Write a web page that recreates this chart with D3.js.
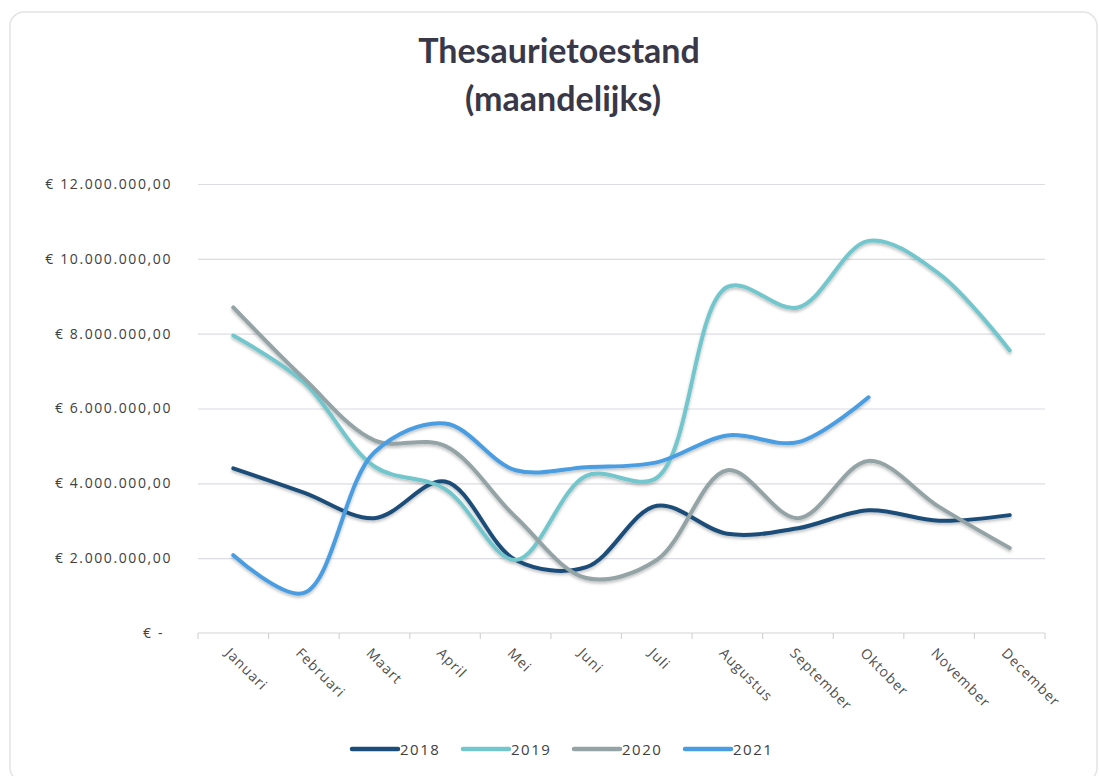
<!DOCTYPE html>
<html>
<head>
<meta charset="utf-8">
<script src="https://cdn.jsdelivr.net/npm/d3@7"></script>
<style>
  body { margin: 0; background: #fff; font-family: "Open Sans", sans-serif; }
</style>
</head>
<body>
<div id="chart"></div>
<script>
const width = 1099;
const height = 776;
const margin = { top: 184, right: 54, bottom: 143, left: 198 };

// data
const months = ['Januari', 'Februari', 'Maart', 'April', 'Mei', 'Juni', 'Juli',
  'Augustus', 'September', 'Oktober', 'November', 'December'];
const years = ['2018', '2019', '2020', '2021'];
const v2018 = [4.4, 3.75, 3.07, 4.05, 1.95, 1.76, 3.4, 2.65, 2.8, 3.28, 3.0, 3.15];
const v2019 = [7.95, 6.7, 4.45, 3.85, 1.95, 4.2, 4.15, 9.25, 8.7, 10.48, 9.6, 7.55];
const v2020 = [8.7, 6.8, 5.15, 5.0, 3.1, 1.47, 1.95, 4.35, 3.07, 4.6, 3.37, 2.27];
const v2021 = [2.08, 1.07, 4.83, 5.6, 4.35, 4.43, 4.56, 5.28, 5.1, 6.3];
const yTicks = [0, 2, 4, 6, 8, 10, 12];
const colors = ['#1c4d78', '#72c6cc', '#94a3a5', '#4a9de0'];

const seriesList = [v2018, v2019, v2020, v2021].map((vals, i) => ({
  key: years[i],
  values: vals.map((v, j) => ({ month: months[j], value: v * 1e6 }))
}));

const svg = d3.select('#chart')
  .append('svg')
  .attr('width', width)
  .attr('height', height);

const defs = svg.append('defs');
const shadow = defs.append('filter').attr('id', 'shadow')
  .attr('x', '-5%').attr('y', '-5%').attr('width', '110%').attr('height', '115%');
shadow.append('feDropShadow')
  .attr('dx', 0).attr('dy', 2).attr('stdDeviation', 1.5)
  .attr('flood-color', '#000').attr('flood-opacity', 0.25);

// card
svg.append('rect')
  .attr('x', 10).attr('y', 12)
  .attr('width', width - 12).attr('height', height - 6)
  .attr('rx', 14)
  .style('fill', '#fff')
  .style('stroke', '#e4e4e4')
  .style('stroke-width', 1.5);

// title
const title = svg.append('text')
  .attr('text-anchor', 'middle')
  .style('font-family', 'Lato, "Open Sans", sans-serif')
  .style('font-weight', 'bold')
  .style('font-size', '34px')
  .style('fill', '#383848');
title.append('tspan').attr('x', 559).attr('y', 63).text('Thesaurietoestand');
title.append('tspan').attr('x', 563).attr('y', 111).text('(maandelijks)');

const xScale = d3.scaleBand()
  .domain(months)
  .range([margin.left, width - margin.right]);

const yScale = d3.scaleLinear()
  .domain([0, 12e6])
  .range([height - margin.bottom, margin.top]);

// grid + y labels
const fmt = d3.formatLocale({ decimal: ',', thousands: '.', grouping: [3], currency: ['€ ', ''] });
const yAxis = d3.axisLeft(yScale)
  .tickValues(yTicks.map(d => d * 1e6))
  .tickSize(-(width - margin.left - margin.right))
  .tickPadding(26)
  .tickFormat(d => d === 0 ? '€ -' : fmt.format('$,.2f')(d));

const yAxisGroup = svg.append('g')
  .attr('transform', `translate(${margin.left}, 0)`)
  .call(yAxis);
yAxisGroup.select('.domain').remove();
yAxisGroup.selectAll('.tick line')
  .style('stroke', '#dcdce4')
  .style('stroke-width', '1.2px');
yAxisGroup.selectAll('.tick text')
  .style('font-family', '"Open Sans", sans-serif')
  .style('font-size', '14px')
  .style('letter-spacing', '1.6px')
  .style('fill', '#404040')
  .attr('dx', d => d === 0 ? -8 : 0);
yAxisGroup.selectAll('.tick').filter(d => d === 0).select('line').remove();

// x axis
const xAxisGroup = svg.append('g')
  .attr('transform', `translate(0, ${height - margin.bottom})`);
xAxisGroup.append('line')
  .attr('x1', margin.left).attr('x2', width - margin.right)
  .style('stroke', '#d4d4d4').style('stroke-width', 1.2);
const bounds = months.map(m => xScale(m)).concat([width - margin.right]);
xAxisGroup.selectAll('.xtick')
  .data(bounds)
  .join('line')
  .attr('x1', d => d).attr('x2', d => d)
  .attr('y1', 0).attr('y2', 6)
  .style('stroke', '#d4d4d4').style('stroke-width', 1.2);
xAxisGroup.selectAll('.xlabel')
  .data(months)
  .join('text')
  .attr('transform', d => `translate(${xScale(d) + xScale.bandwidth() / 2 - 9}, 21) rotate(45)`)
  .style('font-family', '"Open Sans", sans-serif')
  .style('font-size', '14px')
  .style('letter-spacing', '1px')
  .style('fill', '#505050')
  .text(d => d);

// lines
const line = d3.line()
  .x(d => xScale(d.month) + xScale.bandwidth() / 2)
  .y(d => yScale(d.value))
  .curve(d3.curveCatmullRom.alpha(0.5));

svg.append('g')
  .attr('filter', 'url(#shadow)')
  .selectAll('path')
  .data(seriesList)
  .join('path')
  .attr('d', d => line(d.values))
  .style('fill', 'none')
  .style('stroke', (d, i) => colors[i])
  .style('stroke-width', 4)
  .style('stroke-linecap', 'round');

// legend
const legendX = [352, 463, 574, 685];
const legend = svg.append('g')
  .selectAll('g')
  .data(years)
  .join('g')
  .attr('transform', (d, i) => `translate(${legendX[i]}, 749)`);
legend.append('line')
  .attr('x1', 0).attr('x2', 46)
  .style('stroke', (d, i) => colors[i])
  .style('stroke-width', 4.5)
  .style('stroke-linecap', 'round');
legend.append('text')
  .attr('x', 48).attr('y', 5.5)
  .style('font-family', '"Open Sans", sans-serif')
  .style('font-size', '15px')
  .style('letter-spacing', '1.5px')
  .style('fill', '#404040')
  .text(d => d);
</script>
</body>
</html>
